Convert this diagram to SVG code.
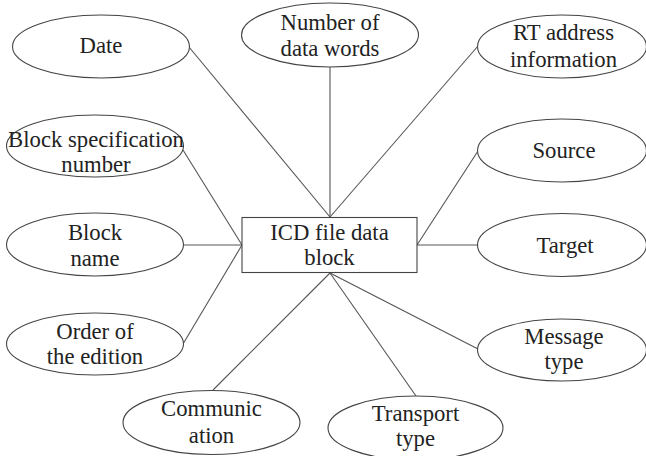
<svg xmlns="http://www.w3.org/2000/svg" width="646" height="456" viewBox="0 0 646 456">
  <style>
    .node ellipse, .node rect { fill: #ffffff; stroke: #444444; stroke-width: 1.1; }
    .edges line { stroke: #555555; stroke-width: 1.1; }
    text { font-size: 22.7px; fill: #222222; text-anchor: middle; }
  </style>
  <rect width="646" height="456" fill="#ffffff"/>

  <g id="edges" class="edges">
    <line x1="189" y1="47" x2="330" y2="217"/>
    <line x1="330" y1="67" x2="330" y2="217"/>
    <line x1="478" y1="46" x2="330" y2="217"/>
    <line x1="183" y1="150" x2="242" y2="245"/>
    <line x1="184" y1="245" x2="242" y2="245"/>
    <line x1="183" y1="344" x2="242" y2="245"/>
    <line x1="478" y1="151" x2="417" y2="245"/>
    <line x1="478" y1="245" x2="417" y2="245"/>
    <line x1="213" y1="390" x2="330" y2="273"/>
    <line x1="416" y1="396" x2="330" y2="273"/>
    <line x1="478" y1="349" x2="330" y2="273"/>
  </g>

  <g id="date" class="node">
    <ellipse cx="101" cy="46.5" rx="88.5" ry="31.5"/>
    <text x="101" y="53" font-family="serif">Date</text>
  </g>
  <g id="number-of-data-words" class="node">
    <ellipse cx="330" cy="35" rx="88.5" ry="32"/>
    <text x="330" y="30" font-family="serif">Number of</text>
    <text x="330" y="56" font-family="serif">data words</text>
  </g>
  <g id="rt-address-information" class="node">
    <ellipse cx="562" cy="46.5" rx="84.5" ry="31.5"/>
    <text x="563.5" y="40" font-family="serif">RT address</text>
    <text x="563.5" y="66.5" font-family="serif">information</text>
  </g>
  <g id="block-specification-number" class="node">
    <ellipse cx="95" cy="146" rx="88.5" ry="31"/>
    <text x="96" y="146.5" font-family="serif">Block specification</text>
    <text x="96" y="172" font-family="serif">number</text>
  </g>
  <g id="source" class="node">
    <ellipse cx="562" cy="150.5" rx="84.5" ry="31.5"/>
    <text x="564" y="158" font-family="serif">Source</text>
  </g>
  <g id="block-name" class="node">
    <ellipse cx="95" cy="244.5" rx="88.5" ry="31.5"/>
    <text x="95" y="240" font-family="serif">Block</text>
    <text x="95" y="266" font-family="serif">name</text>
  </g>
  <g id="icd-file-data-block" class="node">
    <rect x="242" y="217.5" width="175" height="55"/>
    <text x="329.5" y="239.5" font-family="serif">ICD file data</text>
    <text x="329.5" y="265" font-family="serif">block</text>
  </g>
  <g id="target" class="node">
    <ellipse cx="562" cy="245" rx="84.5" ry="31.5"/>
    <text x="565" y="252.5" font-family="serif">Target</text>
  </g>
  <g id="order-of-the-edition" class="node">
    <ellipse cx="95" cy="344" rx="88.5" ry="31"/>
    <text x="95" y="339" font-family="serif">Order of</text>
    <text x="95" y="364" font-family="serif">the edition</text>
  </g>
  <g id="message-type" class="node">
    <ellipse cx="562" cy="350" rx="84.5" ry="31"/>
    <text x="564" y="344" font-family="serif">Message</text>
    <text x="564" y="369" font-family="serif">type</text>
  </g>
  <g id="communication" class="node">
    <ellipse cx="211.5" cy="422.5" rx="88.5" ry="32"/>
    <text x="211.5" y="416" font-family="serif">Communic</text>
    <text x="211.5" y="442.5" font-family="serif">ation</text>
  </g>
  <g id="transport-type" class="node">
    <ellipse cx="415.5" cy="428" rx="87.5" ry="32"/>
    <text x="415.5" y="421" font-family="serif">Transport</text>
    <text x="415.5" y="446" font-family="serif">type</text>
  </g>
</svg>
